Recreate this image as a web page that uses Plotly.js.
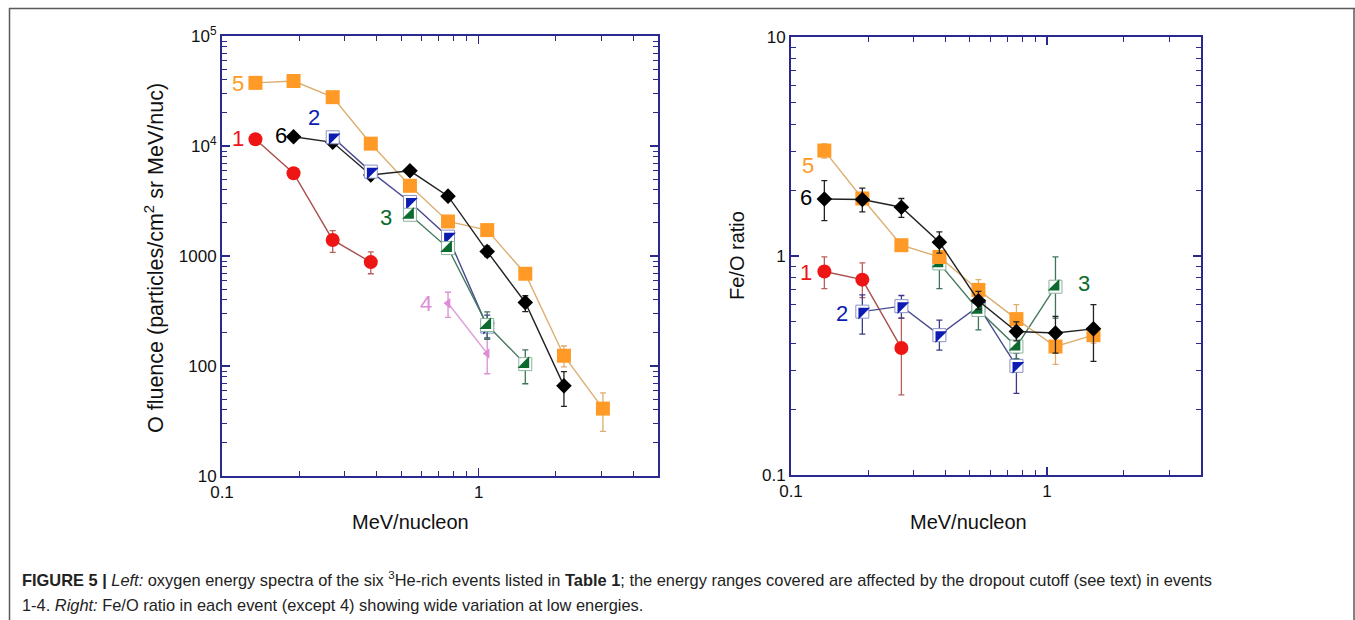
<!DOCTYPE html>
<html>
<head>
<meta charset="utf-8">
<script src="https://cdn.plot.ly/plotly-3.0.1.min.js"></script>
<style>
html,body{margin:0;padding:0;background:#fff;}
#chart{width:1355px;height:620px;}
</style>
</head>
<body>
<div id="chart"></div>
<script>
// ---------- Data ----------
// Left panel: O fluence (particles/cm2 sr MeV/nuc) vs MeV/nucleon
const ev1_E = [0.135, 0.19, 0.27, 0.38];
const ev1_O = [11500, 5650, 1400, 880];
const ev1_Ohi = [12300, 6200, 1700, 1090];
const ev1_Olo = [10700, 5100, 1080, 690];

const ev2_E = [0.27, 0.38, 0.54, 0.76, 1.08];
const ev2_O = [12000, 5850, 3100, 1500, 228];
const ev2_Ohi = [12600, 6200, 3300, 1600, 290];
const ev2_Olo = [11400, 5500, 2900, 1400, 180];

const ev3_E = [0.54, 0.76, 1.08, 1.52];
const ev3_O = [2370, 1180, 236, 104];
const ev3_Ohi = [2500, 1250, 310, 140];
const ev3_Olo = [2250, 1100, 175, 69];

const ev4_E = [0.76, 1.08];
const ev4_O = [372, 130];
const ev4_Ohi = [468, 175];
const ev4_Olo = [277, 85];

const ev5_E = [0.135, 0.19, 0.27, 0.38, 0.54, 0.76, 1.08, 1.52, 2.15, 3.05];
const ev5_O = [37500, 39000, 27800, 10500, 4350, 2060, 1720, 690, 124, 41];
const ev5_Ohi = [39000, 40500, 29000, 11000, 4550, 2160, 1800, 730, 152, 57];
const ev5_Olo = [36000, 37500, 26600, 10000, 4150, 1960, 1640, 650, 98, 25.5];

const ev6_E = [0.19, 0.27, 0.38, 0.54, 0.76, 1.08, 1.52, 2.15];
const ev6_O = [12150, 10800, 5450, 5950, 3500, 1100, 378, 66];
const ev6_Ohi = [12700, 11300, 5700, 6200, 3650, 1230, 435, 89];
const ev6_Olo = [11600, 10300, 5200, 5700, 3350, 990, 312, 43];

// Right panel: Fe/O ratio vs MeV/nucleon
const r1_E = [0.135, 0.19, 0.27];
const r1_R = [0.85, 0.78, 0.38];
const r1_Rhi = [0.99, 0.93, 0.52];
const r1_Rlo = [0.71, 0.645, 0.232];

const r2_E = [0.19, 0.27, 0.38, 0.54, 0.76];
const r2_R = [0.557, 0.59, 0.435, 0.59, 0.315];
const r2_Rhi = [0.665, 0.66, 0.51, 0.64, 0.36];
const r2_Rlo = [0.44, 0.52, 0.372, 0.53, 0.236];

const r3_E = [0.38, 0.54, 0.76, 1.08];
const r3_R = [0.925, 0.567, 0.386, 0.724];
const r3_Rhi = [1.05, 0.64, 0.43, 0.99];
const r3_Rlo = [0.71, 0.46, 0.34, 0.52];

const r5_E = [0.135, 0.19, 0.27, 0.38, 0.54, 0.76, 1.08, 1.52];
const r5_R = [3.03, 1.83, 1.12, 0.99, 0.70, 0.515, 0.386, 0.435];
const r5_Rhi = [3.25, 1.95, 1.18, 1.05, 0.78, 0.60, 0.44, 0.47];
const r5_Rlo = [2.80, 1.72, 1.06, 0.93, 0.63, 0.45, 0.32, 0.40];

const r6_E = [0.135, 0.19, 0.27, 0.38, 0.54, 0.76, 1.08, 1.52];
const r6_R = [1.82, 1.81, 1.67, 1.155, 0.625, 0.452, 0.445, 0.465];
const r6_Rhi = [2.21, 2.04, 1.83, 1.29, 0.69, 0.50, 0.53, 0.60];
const r6_Rlo = [1.45, 1.59, 1.50, 1.03, 0.57, 0.41, 0.36, 0.33];

// Tick labels
const xTickVals = [0.1, 1];
const xTickText = ['0.1', '1'];
const yLeftTickVals = [10, 100, 1000, 1e4, 1e5];
const yLeftTickText = ['10', '100', '1000', '10<sup>4</sup>', '10<sup>5</sup>'];
const yRightTickVals = [0.1, 1, 10];
const yRightTickText = ['0.1', '1', '10'];

// ---------- Styling ----------
const W = 1355, H = 620;
const px = x => x / W;
const py = y => 1 - y / H;
const NAVY = '#2a2a8e';
const FONT = 'Liberation Sans, Arial, Helvetica, sans-serif';

const C = {
  red:    {m: '#ee1515', l: '#a9504c', e: '#b9605c'},
  blue:   {m: '#0c1cb2', l: '#4a4a8e', e: '#3a3a86', o: '#8a90c4'},
  green:  {m: '#0b6a2d', l: '#447a5e', e: '#3f7458', o: '#8ab39c'},
  pink:   {m: '#de8cd6', l: '#e0a0da', e: '#d890d2'},
  orange: {m: '#ff9a26', l: '#dcae70', e: '#dcae70'},
  black:  {m: '#000000', l: '#222222', e: '#222222'}
};

function errs(v, hi, lo, color) {
  return {
    type: 'data', symmetric: false,
    array: v.map((d, i) => hi[i] - d),
    arrayminus: v.map((d, i) => d - lo[i]),
    color: color, thickness: 1.3, width: 3
  };
}

function series(x, y, hi, lo, col, sym, size, ax, fill, outline) {
  return {
    type: 'scatter', mode: 'lines+markers', x: x, y: y,
    xaxis: ax[0], yaxis: ax[1], showlegend: false, hoverinfo: 'x+y',
    line: {color: col.l, width: 1.4},
    marker: {symbol: sym, size: size, color: fill || col.m,
             line: {color: outline || col.m, width: outline ? 1 : 0}},
    error_y: errs(y, hi, lo, col.e)
  };
}
function overlay(x, y, col, sym, size, ax) {
  return {
    type: 'scatter', mode: 'markers', x: x, y: y,
    xaxis: ax[0], yaxis: ax[1], showlegend: false, hoverinfo: 'skip',
    marker: {symbol: sym, size: size, color: col.m, line: {width: 0}}
  };
}

const L = ['x', 'y'], R = ['x2', 'y2'];
const traces = [
  // left
  series(ev1_E, ev1_O, ev1_Ohi, ev1_Olo, C.red, 'circle', 14, L),
  series(ev4_E, ev4_O, ev4_Ohi, ev4_Olo, C.pink, 'triangle-left', 9, L),
  series(ev5_E, ev5_O, ev5_Ohi, ev5_Olo, C.orange, 'square', 14, L),
  series(ev6_E, ev6_O, ev6_Ohi, ev6_Olo, C.black, 'diamond', 12, L),
  series(ev2_E, ev2_O, ev2_Ohi, ev2_Olo, C.blue, 'square', 13, L, '#ffffff', C.blue.o),
  overlay(ev2_E, ev2_O, C.blue, 'triangle-nw', 13, L),
  series(ev3_E, ev3_O, ev3_Ohi, ev3_Olo, C.green, 'square', 13, L, '#ffffff', C.green.o),
  overlay(ev3_E, ev3_O, C.green, 'triangle-se', 13, L),
  // right
  series(r1_E, r1_R, r1_Rhi, r1_Rlo, C.red, 'circle', 14, R),
  series(r2_E, r2_R, r2_Rhi, r2_Rlo, C.blue, 'square', 13, R, '#ffffff', C.blue.o),
  overlay(r2_E, r2_R, C.blue, 'triangle-nw', 13, R),
  series(r3_E, r3_R, r3_Rhi, r3_Rlo, C.green, 'square', 13, R, '#ffffff', C.green.o),
  overlay(r3_E, r3_R, C.green, 'triangle-se', 13, R),
  series(r5_E, r5_R, r5_Rhi, r5_Rlo, C.orange, 'square', 14, R),
  series(r6_E, r6_R, r6_Rhi, r6_Rlo, C.black, 'diamond', 12, R)
];

function minorVals(d0, d1) {
  const out = [];
  for (let d = d0; d < d1; d++) {
    for (let k = 2; k <= 9; k++) out.push(k * Math.pow(10, d));
  }
  return out;
}

function axis(extra) {
  return Object.assign({
    type: 'log', showgrid: false, zeroline: false,
    showline: true, linecolor: NAVY, linewidth: 2, mirror: 'ticks',
    ticks: 'inside', ticklen: 8, tickwidth: 1.5, tickcolor: NAVY,
    tickfont: {family: FONT, size: 17, color: '#111'},
    tickmode: 'array'
  }, extra);
}

const layout = {
  width: W, height: H,
  margin: {l: 0, r: 0, t: 0, b: 0},
  paper_bgcolor: '#ffffff', plot_bgcolor: '#ffffff',
  showlegend: false,
  xaxis: axis({domain: [px(222), px(658)], range: [-1, Math.log10(5)], anchor: 'y',
    tickvals: xTickVals, ticktext: xTickText,
    minor: {tickmode: 'array', tickvals: minorVals(-1, 1).filter(v => v < 5), ticks: 'inside', ticklen: 5, tickwidth: 1, tickcolor: NAVY}}),
  yaxis: axis({domain: [py(476), py(36)], range: [1, 5], anchor: 'x',
    tickvals: yLeftTickVals, ticktext: yLeftTickText,
    minor: {tickmode: 'array', tickvals: minorVals(1, 5), ticks: 'inside', ticklen: 5, tickwidth: 1, tickcolor: NAVY}}),
  xaxis2: axis({domain: [px(791), px(1201)], range: [-1, Math.log10(4)], anchor: 'y2',
    tickvals: xTickVals, ticktext: xTickText,
    minor: {tickmode: 'array', tickvals: minorVals(-1, 1).filter(v => v < 4), ticks: 'inside', ticklen: 5, tickwidth: 1, tickcolor: NAVY}}),
  yaxis2: axis({domain: [py(475), py(37)], range: [-1, 1], anchor: 'x2',
    tickvals: yRightTickVals, ticktext: yRightTickText,
    minor: {tickmode: 'array', tickvals: minorVals(-1, 1), ticks: 'inside', ticklen: 5, tickwidth: 1, tickcolor: NAVY}}),
  shapes: [
    {type: 'line', xref: 'paper', yref: 'paper', x0: px(9), x1: 1, y0: py(8.5), y1: py(8.5), line: {color: '#5a5a5a', width: 1.5}},
    {type: 'line', xref: 'paper', yref: 'paper', x0: px(9.5), x1: px(9.5), y0: py(8), y1: 0, line: {color: '#5a5a5a', width: 1.5}},
    {type: 'line', xref: 'paper', yref: 'paper', x0: px(1354), x1: px(1354), y0: py(8), y1: 0, line: {color: '#5a5a5a', width: 1.5}}
  ],
  annotations: []
};

function txt(x, y, text, size, color, extra) {
  layout.annotations.push(Object.assign({
    xref: 'paper', yref: 'paper', x: px(x), y: py(y), text: text, showarrow: false,
    font: {family: FONT, size: size, color: color}, xanchor: 'center', yanchor: 'middle'
  }, extra || {}));
}

// Axis titles
txt(410, 522, 'MeV/nucleon', 20, '#111');
txt(968, 522, 'MeV/nucleon', 20, '#111');
txt(154, 258, 'O fluence (particles/cm<sup>2</sup> sr MeV/nuc)', 21.5, '#111', {textangle: -90});
txt(737, 256, 'Fe/O ratio', 20, '#111', {textangle: -90});

// Event labels (left)
txt(238, 83, '5', 22, C.orange.m);
txt(238, 138, '1', 22, C.red.m);
txt(281, 135, '6', 22, '#000');
txt(314, 118, '2', 22, C.blue.m);
txt(386, 217, '3', 22, C.green.m);
txt(426, 304, '4', 22, C.pink.m);
// Event labels (right)
txt(808, 165, '5', 22, C.orange.m);
txt(806, 197, '6', 22, '#000');
txt(806, 272, '1', 22, C.red.m);
txt(842, 313, '2', 22, C.blue.m);
txt(1084, 283, '3', 22, C.green.m);

// Caption
const CAP = 'Liberation Sans, Arial, sans-serif';
txt(20, 579, '<b>FIGURE 5 |</b> <i>Left:</i> oxygen energy spectra of the six <sup>3</sup>He-rich events listed in <b>Table 1</b>; the energy ranges covered are affected by the dropout cutoff (see text) in events',
  16.4, '#222', {xanchor: 'left', font: {family: CAP, size: 16.4, color: '#222'}});
txt(20, 605, '1-4. <i>Right:</i> Fe/O ratio in each event (except 4) showing wide variation at low energies.',
  16.4, '#222', {xanchor: 'left', font: {family: CAP, size: 16.4, color: '#222'}});

Plotly.newPlot('chart', traces, layout, {staticPlot: true, displayModeBar: false});
</script>
</body>
</html>
